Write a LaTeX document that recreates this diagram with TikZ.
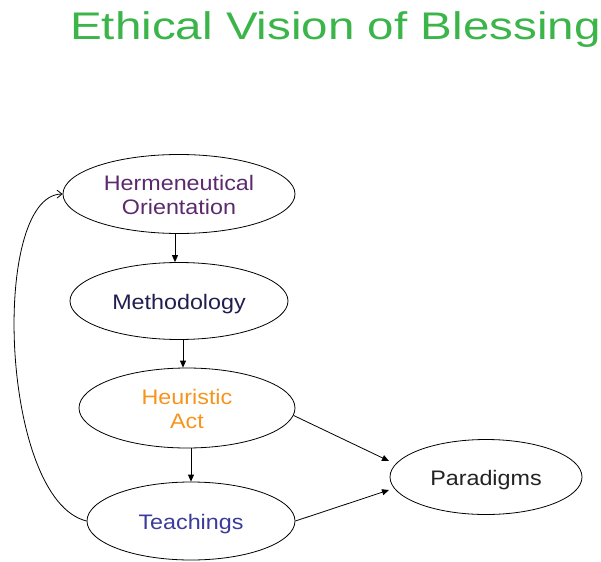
\documentclass[tikz,border=0pt]{standalone}
\usepackage{fontspec}
\usepackage{graphicx}
\setmainfont{Liberation Sans}
\usetikzlibrary{shapes.geometric,arrows.meta}
\definecolor{titlegreen}{HTML}{3BB54A}
\definecolor{hermcol}{HTML}{5B2A6E}
\definecolor{methcol}{HTML}{1F1F4F}
\definecolor{heurcol}{HTML}{F7941D}
\definecolor{teachcol}{HTML}{3B3B9B}
\definecolor{paracol}{HTML}{222222}
\newcommand{\lbl}[1]{\raisebox{-3.5pt}[\height][\depth]{\scalebox{1.11}[1]{\begin{tabular}{@{}c@{}}#1\end{tabular}}}}
\begin{document}
\begin{tikzpicture}[x=1pt,y=-1pt,
  oval/.style={draw=black,line width=0.8pt,ellipse,inner sep=0pt,align=center,
    font=\fontsize{21}{24}\selectfont},
  conn/.style={draw=black,line width=0.8pt,-{Triangle[length=7pt,width=6pt]}}]
\useasboundingbox (0,0) rectangle (601,561);
\node[text=titlegreen,font=\fontsize{38.5}{44}\selectfont,anchor=base west,inner sep=0pt] (title) at (70,39.3) {\scalebox{1.235}[1]{Ethical Vision of Blessing}};
\node[oval,minimum width=232pt,minimum height=79pt,text=hermcol] (herm) at (179,194) {\lbl{Hermeneutical\\Orientation}};
\node[oval,minimum width=218pt,minimum height=77pt,text=methcol] (meth) at (179,301) {\lbl{Methodology}};
\node[oval,minimum width=216pt,minimum height=80pt,text=heurcol] (heur) at (187,408) {\lbl{Heuristic\\Act}};
\node[oval,minimum width=208pt,minimum height=78pt,text=teachcol] (teach) at (191,521) {\lbl{Teachings}};
\node[oval,minimum width=192pt,minimum height=75pt,text=paracol] (para) at (486,477) {\lbl{Paradigms}};
\draw[conn] (herm.south -| 175,0) -- (meth.north -| 175,0);
\draw[conn] (meth.south -| 183,0) -- (heur.north -| 183,0);
\draw[conn] (heur.south -| 191,0) -- (teach.north -| 191,0);
\coordinate (p1) at (389,461);
\coordinate (p2) at (389,490);
\draw[conn] (heur.-4) -- (p1);
\draw[conn] (teach.east) -- (p2);
\draw[line width=0.8pt,-{Straight Barb[length=5pt,width=8pt]}] (teach.west) .. controls (0,500) and (-10,195) .. (herm.west);
\end{tikzpicture}
\end{document}
